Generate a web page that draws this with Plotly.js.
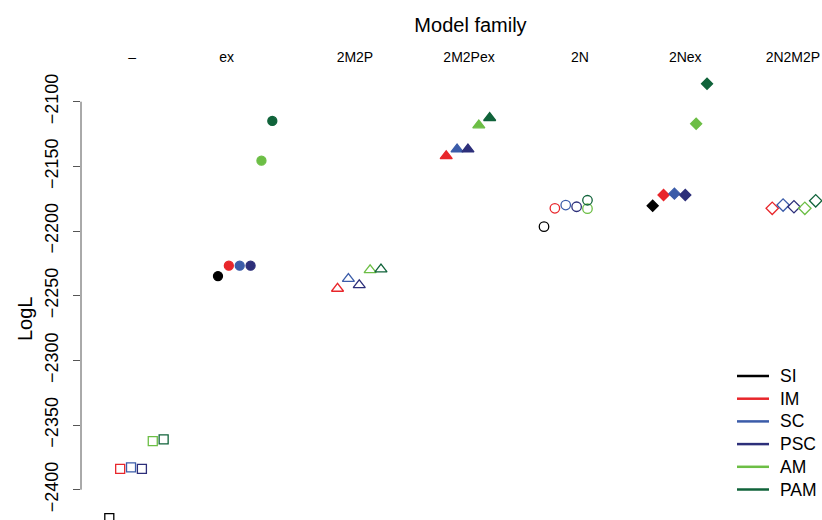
<!DOCTYPE html>
<html>
<head>
<meta charset="utf-8">
<script src="https://cdn.plot.ly/plotly-3.0.1.min.js"></script>
<style>
  html, body { margin: 0; padding: 0; background: #ffffff; }
  #chart { width: 822px; height: 520px; }
</style>
</head>
<body>
<div id="chart"></div>
<script>
// Model families along the top, demographic models as colours
const families = ['–', 'ex', '2M2P', '2M2Pex', '2N', '2Nex', '2N2M2P'];
const models = ['SI', 'IM', 'SC', 'PSC', 'AM', 'PAM'];

// Log-likelihood of each model within each family (null = not shown)
const logL_SI  = [-2422.0, -2234.8, null,    null,    -2196.6, -2180.4, null];
const logL_IM  = [-2383.8, -2226.8, -2244.5, -2142.0, -2182.4, -2172.1, -2182.4];
const logL_SC  = [-2382.7, -2226.8, -2236.9, -2136.8, -2179.9, -2171.1, -2179.9];
const logL_PSC = [-2383.8, -2226.8, -2241.7, -2136.8, -2181.2, -2172.1, -2181.2];
const logL_AM  = [-2362.4, -2145.6, -2230.1, -2118.2, -2182.7, -2117.0, -2182.4];
const logL_PAM = [-2361.0, -2114.9, -2229.6, -2112.5, -2176.2, -2086.1, -2176.6];

const yTicks = [-2100, -2150, -2200, -2250, -2300, -2350, -2400];

// ---- styling ----
const modelColors = {
  SI: '#000000', IM: '#e8262b', SC: '#3b5ca9',
  PSC: '#2d2f7a', AM: '#6cbe45', PAM: '#10633a'
};
// plotting symbol per family (open = basic, filled = "ex" variants)
const familySymbols = {
  '–': 'square-open', 'ex': 'circle', '2M2P': 'triangle-up-open',
  '2M2Pex': 'triangle-up', '2N': 'circle-open', '2Nex': 'diamond',
  '2N2M2P': 'diamond-open'
};
const familySizes = {
  '–': 9, 'ex': 9, '2M2P': 10.5, '2M2Pex': 10.5, '2N': 9.5, '2Nex': 8.5, '2N2M2P': 9.5
};
// horizontal slot of each model inside its family column
const modelSlot = { SI: 0, IM: 1, SC: 2, PSC: 3, AM: 4, PAM: 5 };
const slotOverride = { '2N': { PAM: 4 } };
const slotStep = 0.1;
// where the family names sit along the x axis
const familyLabelX = [0.21, 1.08, 2.26, 3.31, 4.33, 5.30, 6.29];

const series = {
  SI: logL_SI, IM: logL_IM, SC: logL_SC, PSC: logL_PSC, AM: logL_AM, PAM: logL_PAM
};

const traces = [];
models.forEach(m => {
  const xs = [], ys = [], syms = [], sizes = [];
  families.forEach((f, i) => {
    const v = series[m][i];
    if (v === null) return;
    const slot = (slotOverride[f] && slotOverride[f][m] !== undefined) ? slotOverride[f][m] : modelSlot[m];
    xs.push(i + slot * slotStep);
    ys.push(v);
    syms.push(familySymbols[f]);
    sizes.push(familySizes[f]);
  });
  traces.push({
    type: 'scatter', mode: 'markers', x: xs, y: ys, name: m,
    showlegend: false, cliponaxis: false, hoverinfo: 'skip',
    marker: {
      symbol: syms, size: sizes, color: modelColors[m], opacity: 1,
      line: { color: modelColors[m], width: 1.3 }
    }
  });
});

const font = 'Liberation Sans, Arial, Helvetica, sans-serif';

// plot frame in pixels (used to place the key in paper units)
const plotLeft = 81, plotTop = 66, plotW = 822 - 81, plotH = 520 - 66;
const px2x = px => (px - plotLeft) / plotW;
const px2y = py => 1 - (py - plotTop) / plotH;

// key: a short line and the model name for each colour
const keyLineX0 = 737, keyLineX1 = 769, keyTextX = 778, keyTop = 376, keyStep = 22.7;
const keyShapes = models.map((m, k) => ({
  type: 'line', xref: 'paper', yref: 'paper',
  x0: px2x(keyLineX0), x1: px2x(keyLineX1),
  y0: px2y(keyTop + k * keyStep), y1: px2y(keyTop + k * keyStep),
  line: { color: modelColors[m], width: 2.5 }
}));
const keyLabels = models.map((m, k) => ({
  text: m, showarrow: false, xref: 'paper', yref: 'paper',
  x: px2x(keyTextX), y: px2y(keyTop + k * keyStep),
  xanchor: 'left', yanchor: 'middle',
  font: { size: 17.5, family: font, color: '#000' }
}));

const layout = {
  width: 822, height: 520,
  margin: { l: plotLeft, r: 0, t: plotTop, b: 0, pad: 0 },
  paper_bgcolor: '#ffffff', plot_bgcolor: '#ffffff',
  font: { family: font, color: '#000000' },
  showlegend: false,
  title: {
    text: 'Model family', font: { size: 20, family: font, color: '#000' },
    xref: 'container', yref: 'container', x: 470.5 / 822, y: 1 - 25 / 520,
    xanchor: 'center', yanchor: 'middle'
  },
  xaxis: {
    range: [-0.2604, 6.558], side: 'top',
    tickmode: 'array', tickvals: familyLabelX, ticktext: families,
    ticks: '', showline: false, showgrid: false, zeroline: false,
    tickfont: { size: 14, family: font, color: '#000' }
  },
  yaxis: {
    range: [-2423.4, -2072.4],
    tickmode: 'array', tickvals: yTicks,
    ticks: 'outside', ticklen: 7, tickcolor: '#555555', tickwidth: 1,
    tickangle: -90, ticklabelstandoff: 8,
    showline: false, showgrid: false, zeroline: false,
    tickfont: { size: 18, family: font, color: '#000' }
  },
  shapes: [{
    type: 'line', xref: 'paper', yref: 'y', x0: 0, x1: 0,
    y0: yTicks[0], y1: yTicks[yTicks.length - 1],
    line: { color: '#555555', width: 1 }
  }].concat(keyShapes),
  annotations: [{
    text: 'LogL', textangle: -90, showarrow: false,
    xref: 'paper', yref: 'paper', x: px2x(25), y: px2y(318),
    xanchor: 'center', yanchor: 'middle',
    font: { size: 20, family: font, color: '#000' }
  }].concat(keyLabels)
};

Plotly.newPlot('chart', traces, layout, { displayModeBar: false, staticPlot: true });
</script>
</body>
</html>
